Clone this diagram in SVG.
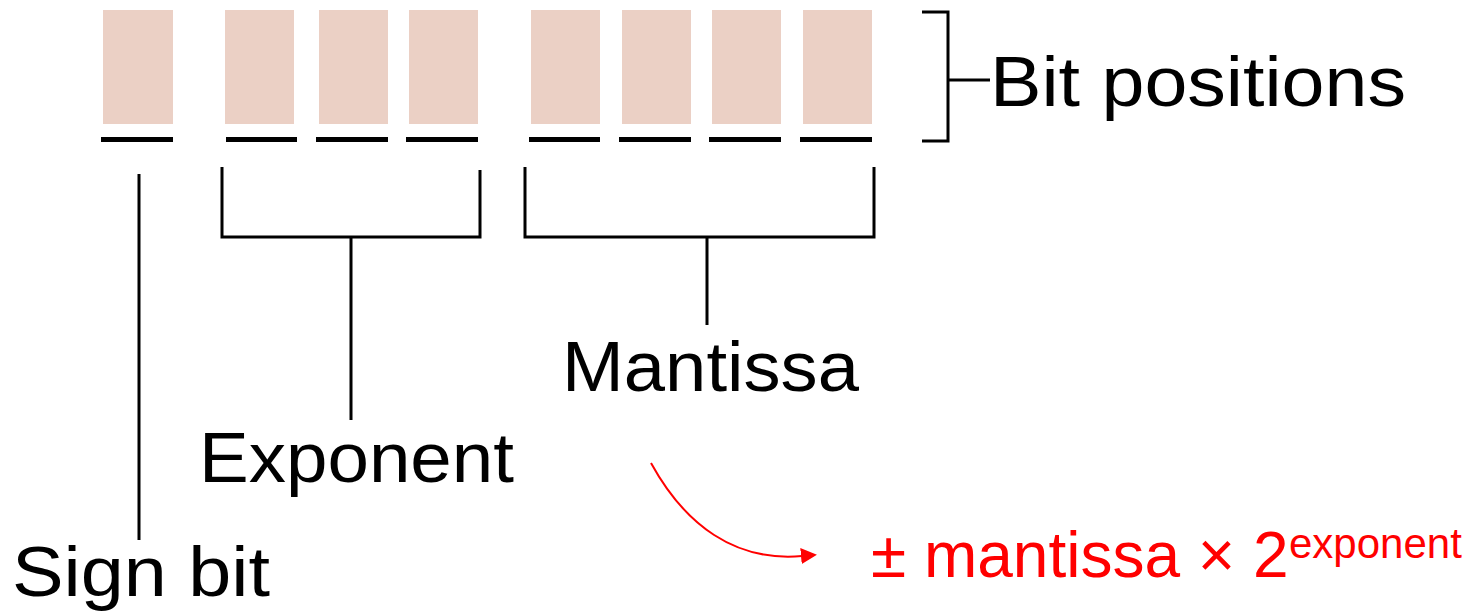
<svg xmlns="http://www.w3.org/2000/svg" width="1476" height="612" viewBox="0 0 1476 612">
  <style>
    .bit { fill: #ebd0c5; }
    .under { stroke: #000; stroke-width: 5; fill: none; }
    .brace { stroke: #000; stroke-width: 3; fill: none; }
    .label { font-family: "Liberation Sans", Arial, sans-serif; font-size: 71px; fill: #000; }
    .formula { font-family: "Liberation Sans", Arial, sans-serif; font-size: 64px; fill: #ff0000; }
  </style>
  <defs>
    <marker id="redArrow" markerWidth="16" markerHeight="16" refX="1" refY="8" orient="auto" markerUnits="userSpaceOnUse">
      <polygon points="0,0 16,8 0,16" fill="#ff0000"/>
    </marker>
  </defs>

  <rect width="1476" height="612" fill="#fff"/>

  <!-- bit cells with their underlines -->
  <g id="sign-cell">
    <rect class="bit" x="103" y="10" width="70" height="114"/>
    <line class="under" x1="101" y1="139.5" x2="173" y2="139.5"/>
  </g>
  <g id="exponent-cells">
    <rect class="bit" x="225" y="10" width="69" height="114"/>
    <rect class="bit" x="319" y="10" width="69" height="114"/>
    <rect class="bit" x="409" y="10" width="69" height="114"/>
    <line class="under" x1="226" y1="139.5" x2="297" y2="139.5"/>
    <line class="under" x1="316" y1="139.5" x2="388" y2="139.5"/>
    <line class="under" x1="406" y1="139.5" x2="478" y2="139.5"/>
  </g>
  <g id="mantissa-cells">
    <rect class="bit" x="531" y="10" width="69" height="114"/>
    <rect class="bit" x="622" y="10" width="69" height="114"/>
    <rect class="bit" x="712" y="10" width="69" height="114"/>
    <rect class="bit" x="803" y="10" width="69" height="114"/>
    <line class="under" x1="529" y1="139.5" x2="600" y2="139.5"/>
    <line class="under" x1="619" y1="139.5" x2="691" y2="139.5"/>
    <line class="under" x1="709" y1="139.5" x2="781" y2="139.5"/>
    <line class="under" x1="800" y1="139.5" x2="872" y2="139.5"/>
  </g>

  <!-- labels -->
  <g id="bit-positions">
    <text class="label" x="990" y="106" textLength="416" lengthAdjust="spacingAndGlyphs">Bit positions</text>
  </g>
  <g id="mantissa">
    <text class="label" x="562" y="391" textLength="297" lengthAdjust="spacingAndGlyphs">Mantissa</text>
  </g>
  <g id="exponent">
    <text class="label" x="199" y="482" textLength="315" lengthAdjust="spacingAndGlyphs">Exponent</text>
  </g>
  <g id="sign-bit">
    <text class="label" x="12" y="596" textLength="258" lengthAdjust="spacingAndGlyphs">Sign bit</text>
  </g>
  <g id="formula">
    <text class="formula" x="871" y="577">± mantissa × 2<tspan x="1289" y="558" font-size="42">exponent</tspan></text>
  </g>

  <!-- connectors -->
  <g id="connectors">
    <path class="brace" stroke-width="4" d="M922,12 H948 V141 H922 M948,80 H990"/>
    <line class="brace" x1="139" y1="174" x2="139" y2="540"/>
    <path class="brace" d="M222,167 V237 H480 V170 M351,237 V420"/>
    <path class="brace" d="M525,167 V237 H874 V167 M707,237 V325"/>
    <path d="M651,463 C685,525 735,562 802,556" fill="none" stroke="#ff0000" stroke-width="2" marker-end="url(#redArrow)"/>
  </g>
</svg>
